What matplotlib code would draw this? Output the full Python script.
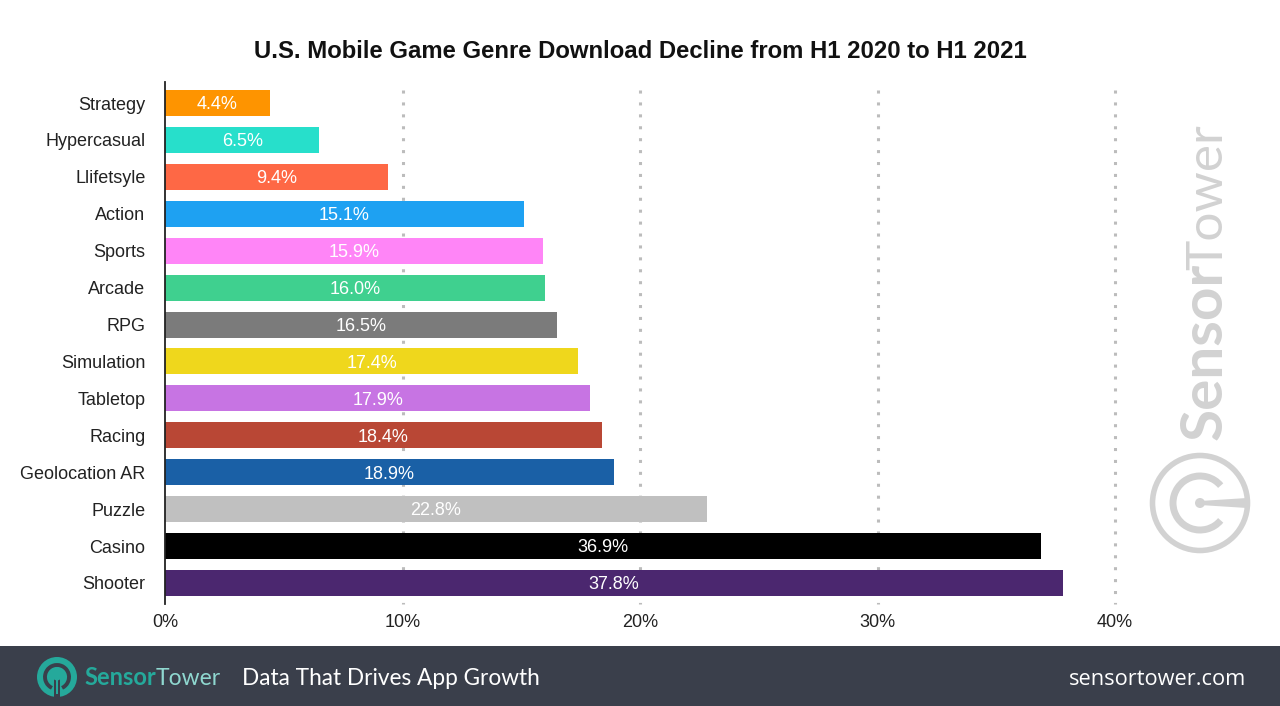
import matplotlib
matplotlib.use('Agg')
import matplotlib.pyplot as plt
from matplotlib.patches import Rectangle, Circle, Arc, Polygon

plt.rcParams['font.family'] = ['Liberation Sans', 'DejaVu Sans']

genres = ['Strategy', 'Hypercasual', 'Llifetsyle', 'Action', 'Sports', 'Arcade', 'RPG',
          'Simulation', 'Tabletop', 'Racing', 'Geolocation AR', 'Puzzle', 'Casino', 'Shooter']
values = [4.4, 6.5, 9.4, 15.1, 15.9, 16.0, 16.5, 17.4, 17.9, 18.4, 18.9, 22.8, 36.9, 37.8]
colors = ['#fe9400', '#27dfcb', '#fe6845', '#1ea1f2', '#ff85f7', '#3fd08f', '#7b7b7b',
          '#efd71c', '#c774e3', '#b94735', '#1a60a6', '#c0c0c0', '#000000', '#4b276f']
xticks = [0, 10, 20, 30, 40]

W, H = 1280, 706
fig = plt.figure(figsize=(W / 100, H / 100), dpi=100, facecolor='white')

# overlay in pixel coords for footer and logos
bg = fig.add_axes([0, 0, 1, 1], zorder=0)
bg.set_xlim(0, W)
bg.set_ylim(H, 0)
bg.axis('off')

ax = fig.add_axes([165 / W, 1 - 604 / H, 950 / W, 522 / H], zorder=1)
ax.patch.set_alpha(0)
ax.barh(range(len(genres)), values, height=0.705, color=colors, zorder=2)
ax.set_xlim(0, 40)
ax.set_ylim(13.57, -0.57)
ax.set_yticks(range(len(genres)))
ax.set_yticklabels(genres, fontsize=13, color='#222222', va='center_baseline')
ax.set_xticks(xticks)
ax.set_xticklabels([f'{t}%' for t in xticks], fontsize=13, color='#222222')
ax.tick_params(length=0)
ax.tick_params(axis='y', pad=14)
ax.tick_params(axis='x', pad=7.5)
ax.vlines(xticks[1:], -0.35, 13.57, color='#bcbcbc', linewidth=2.2,
          linestyle=(0, (1, 2.9)), zorder=1, clip_on=False)
for s in ['top', 'right', 'bottom']:
    ax.spines[s].set_visible(False)
ax.spines['left'].set_color('#222222')
ax.spines['left'].set_linewidth(1.3)
ax.spines['left'].set_zorder(3)

for i, v in enumerate(values):
    ax.text(v / 2, i + 0.05, f'{v}%', ha='center', va='center', color='white', fontsize=13, zorder=4)

fig.text(640 / W, 1 - 51.5 / H, 'U.S. Mobile Game Genre Download Decline from H1 2020 to H1 2021',
         ha='center', va='center', fontsize=17.2, fontweight='bold', color='#111111')

# footer
dark = '#3a3f4b'
teal = '#25a99b'
bg.add_patch(Rectangle((0, 646), W, 60, facecolor=dark, edgecolor='none'))
bg.add_patch(Circle((57, 677), 20, facecolor=teal, edgecolor='none'))
bg.add_patch(Arc((57, 677), 24, 24, theta1=115, theta2=65, color=dark, lw=2.8))
bg.add_patch(Rectangle((54, 677), 6, 20, facecolor=dark, edgecolor='none'))
bg.add_patch(Circle((57, 676), 4.5, facecolor=teal, edgecolor='none'))
bg.add_patch(Rectangle((55.7, 677), 2.6, 17, facecolor=teal, edgecolor='none'))
bg.text(84, 685, 'Sensor', color=teal, fontsize=17, fontweight='bold', family='Lato', va='baseline')
bg.text(156, 685, 'Tower', color='#8fd8d0', fontsize=16.5, family='Lato', va='baseline')
bg.text(242, 685, 'Data That Drives App Growth', color='white', fontsize=16.3, family='Lato', va='baseline')
bg.text(1246, 685, 'sensortower.com', color='white', fontsize=15.7, family='Open Sans', va='baseline', ha='right')

# watermark
mark = '#d2d2d2'
bg.text(1222, 440, 'Sensor', color=mark, fontsize=42, fontweight='bold', family='Lato',
        rotation=90, rotation_mode='anchor', ha='left', va='baseline')
bg.text(1222, 270, 'Tower', color=mark, fontsize=37, family='Lato',
        rotation=90, rotation_mode='anchor', ha='left', va='baseline')
bg.add_patch(Circle((1200, 503), 47.5, facecolor='none', edgecolor=mark, lw=4))
bg.add_patch(Arc((1200, 503), 54, 54, theta1=40, theta2=320, color=mark, lw=5))
bg.add_patch(Circle((1200, 503), 5, facecolor=mark, edgecolor='none'))
bg.add_patch(Polygon([(1200, 501), (1247, 498), (1247, 508), (1200, 505)], facecolor=mark, edgecolor='none'))

fig.savefig('out.png', dpi=100)
